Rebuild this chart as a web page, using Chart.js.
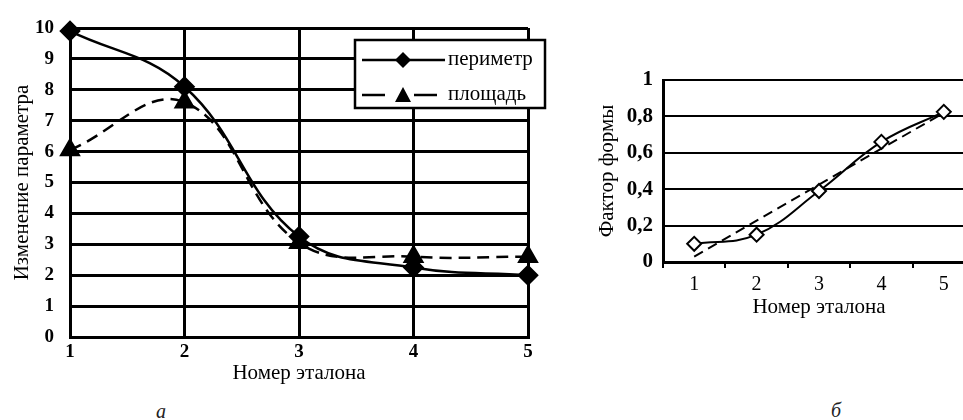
<!DOCTYPE html>
<html><head><meta charset="utf-8">
<script src="https://cdn.jsdelivr.net/npm/chart.js@4.4.1/dist/chart.umd.min.js"></script>
<style>
html,body{margin:0;padding:0;background:#fff;overflow:hidden;width:963px;height:420px;position:relative;}
#wa{position:absolute;left:0;top:0;width:560px;height:390px;}
#wb{position:absolute;left:590px;top:0;width:395px;height:320px;}
.cap{position:absolute;font-family:"Liberation Serif",serif;font-style:italic;font-size:20px;line-height:20px;color:#222;}
</style></head><body>
<div id="wa"><canvas id="ca"></canvas></div>
<div id="wb"><canvas id="cb"></canvas></div>
<div class="cap" style="left:156px;top:401px">а</div>
<div class="cap" style="left:831px;top:400px">б</div>
<script>
// ---- data ----
const etalonLabels = ['1','2','3','4','5'];
const perimeterValues = [9.9, 8.1, 3.25, 2.25, 2.0];
const areaValues = [6.05, 7.6, 3.05, 2.6, 2.6];
const shapeFactorValues = [0.1, 0.15, 0.39, 0.66, 0.825];
const shapeTrendValues = [0.03, null, null, null, 0.82];
const seriesNames = ['периметр', 'площадь'];
const xTitle = 'Номер эталона';
const yTitleA = 'Изменение параметра';
const yTitleB = 'Фактор формы';

const FONT = '"Liberation Serif", "Times New Roman", serif';

const boxLegend = {
  id: 'boxLegend',
  afterDraw(chart) {
    const ctx = chart.ctx;
    ctx.save();
    const x0 = 355, y0 = 40, w = 190, h = 68;
    ctx.fillStyle = '#fff';
    ctx.fillRect(x0, y0, w, h);
    ctx.lineWidth = 2.5;
    ctx.strokeStyle = '#000';
    ctx.strokeRect(x0, y0, w, h);
    // row 1: solid line with diamond
    let y = 60;
    ctx.lineWidth = 2.5;
    ctx.setLineDash([]);
    ctx.beginPath(); ctx.moveTo(362, y); ctx.lineTo(445, y); ctx.stroke();
    ctx.fillStyle = '#000';
    ctx.beginPath();
    ctx.moveTo(403, y - 8); ctx.lineTo(411, y); ctx.lineTo(403, y + 8); ctx.lineTo(395, y); ctx.closePath(); ctx.fill();
    // row 2: dashed with triangle
    y = 95;
    ctx.beginPath(); ctx.moveTo(362, y); ctx.lineTo(385, y); ctx.stroke();
    ctx.beginPath(); ctx.moveTo(414, y); ctx.lineTo(437, y); ctx.stroke();
    ctx.beginPath();
    ctx.moveTo(403, y - 8); ctx.lineTo(411, y + 7); ctx.lineTo(395, y + 7); ctx.closePath(); ctx.fill();
    ctx.font = '21px ' + FONT;
    ctx.textBaseline = 'middle';
    ctx.textAlign = 'left';
    ctx.fillText(seriesNames[0], 448, 59);
    ctx.fillText(seriesNames[1], 448, 94);
    ctx.restore();
  }
};

new Chart(document.getElementById('ca'), {
  type: 'line',
  data: {
    labels: etalonLabels,
    datasets: [
      { label: seriesNames[0], data: perimeterValues, borderColor: '#000', borderWidth: 2.5, tension: 0.4,
        pointStyle: 'rectRot', pointRadius: 9, pointBackgroundColor: '#000', pointBorderColor: '#000', clip: false },
      { label: seriesNames[1], data: areaValues, borderColor: '#000', borderWidth: 2.5, borderDash: [12, 7], tension: 0.4,
        pointStyle: 'triangle', pointRadius: 10, pointBackgroundColor: '#000', pointBorderColor: '#000', clip: false }
    ]
  },
  options: {
    responsive: true, maintainAspectRatio: false, animation: false, devicePixelRatio: 1,
    layout: { padding: { top: 28, right: 32, left: 0, bottom: 0 } },
    plugins: { legend: { display: false }, tooltip: { enabled: false } },
    scales: {
      x: {
        type: 'category', offset: false,
        grid: { color: '#000', lineWidth: 3, drawTicks: false },
        border: { color: '#000', width: 3 },
        ticks: { color: '#000', font: { family: FONT, size: 19, weight: 'bold' }, padding: 4, maxRotation: 0, autoSkip: false },
        title: { display: true, text: xTitle, color: '#000', font: { family: FONT, size: 21 }, padding: { top: 0, bottom: 4 } },
        afterFit(s) { s.height = 53; }
      },
      y: {
        min: 0, max: 10,
        grid: { color: '#000', lineWidth: 3, drawTicks: false },
        border: { color: '#000', width: 3 },
        ticks: { stepSize: 1, color: '#000', font: { family: FONT, size: 19, weight: 'bold' }, padding: 16 },
        title: { display: true, text: yTitleA, color: '#000', font: { family: FONT, size: 21 }, padding: { top: 10, bottom: 0 } },
        afterFit(s) { s.width = 70; }
      }
    }
  },
  plugins: [boxLegend]
});

new Chart(document.getElementById('cb'), {
  type: 'line',
  data: {
    labels: etalonLabels,
    datasets: [
      { label: 'shape', data: shapeFactorValues, borderColor: '#000', borderWidth: 2, tension: 0.4,
        pointStyle: 'rectRot', pointRadius: 7, pointBackgroundColor: '#fff', pointBorderColor: '#000', pointBorderWidth: 2, clip: false },
      { label: 'trend', data: shapeTrendValues, borderColor: '#000', borderWidth: 2, borderDash: [10, 6], tension: 0,
        pointRadius: 0, spanGaps: true, clip: false }
    ]
  },
  options: {
    responsive: true, maintainAspectRatio: false, animation: false, devicePixelRatio: 1,
    layout: { padding: { top: 80, right: 10, left: 0, bottom: 0 } },
    plugins: { legend: { display: false }, tooltip: { enabled: false } },
    scales: {
      x: {
        type: 'category', offset: true,
        grid: { display: true, drawOnChartArea: false, drawTicks: true, tickLength: 6, color: '#000', lineWidth: 2, offset: true },
        border: { color: '#000', width: 3 },
        ticks: { color: '#000', font: { family: FONT, size: 20 }, padding: 5, maxRotation: 0, autoSkip: false },
        title: { display: true, text: xTitle, color: '#000', font: { family: FONT, size: 21 }, padding: { top: 0, bottom: 0 } },
        afterFit(s) { s.height = 58; }
      },
      y: {
        min: 0, max: 1,
        grid: { color: '#000', lineWidth: 2, drawTicks: false },
        border: { color: '#000', width: 3 },
        ticks: { stepSize: 0.2, color: '#000', font: { family: FONT, size: 21, weight: 'bold' }, padding: 10,
          callback: v => (v === 0 ? '0' : (v === 1 ? '1' : v.toFixed(1).replace('.', ','))) },
        title: { display: true, text: yTitleB, color: '#000', font: { family: FONT, size: 21 }, padding: { top: 5, bottom: 0 } },
        afterFit(s) { s.width = 73; }
      }
    }
  }
});
</script>
</body></html>
